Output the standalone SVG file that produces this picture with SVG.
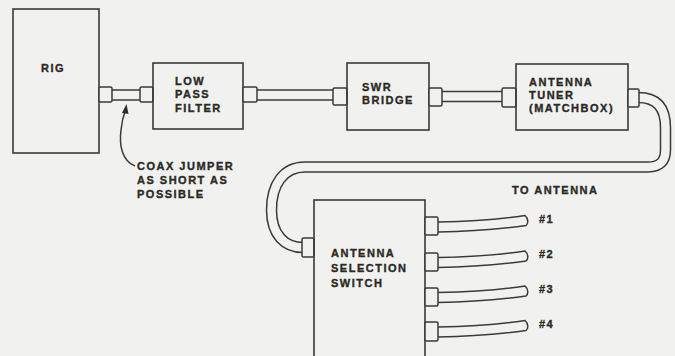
<svg xmlns="http://www.w3.org/2000/svg" width="675" height="356" viewBox="0 0 675 356">
<style>
.bg{fill:#f1f1ef}
.box{fill:none;stroke:#3a3a36;stroke-width:1.6}
.con{fill:#f1f1ef;stroke:#3a3a36;stroke-width:1.5}
.tubeO{fill:none;stroke:#3a3a36;stroke-width:11.5}
.tubeI{fill:none;stroke:#f1f1ef;stroke-width:8.5}
.line{fill:none;stroke:#3a3a36;stroke-width:1.5}
text{font-family:"Liberation Sans",Arial,sans-serif;font-weight:bold;font-size:11px;fill:#2a2a26;stroke:#2a2a26;stroke-width:0.35;letter-spacing:1.5px}
</style>
<defs>
<path id="cable" d="M438 -4.5 C470 -5 500 -7 525 -11 C528.5 -8 528.5 -3 526 -1 C500 2.5 470 5 438 5.5" class="line"/>
</defs>
<rect class="bg" x="0" y="0" width="675" height="356"/>

<g id="connectors">
<path class="tubeO" d="M111 95 H141 M256 95 H334 M441 96.5 H503"/>
<path class="tubeI" d="M111 95 H141 M256 95 H334 M441 96.5 H503"/>
<path class="tubeO" d="M638 97.5 C657 97.5 665.5 108 665.5 128 L665.5 150 Q665.5 167 648 167 L305 167 C283 167 271.5 185 271.5 210 C271.5 235 285 247.5 303 247.5"/>
<path class="tubeI" d="M638 97.5 C657 97.5 665.5 108 665.5 128 L665.5 150 Q665.5 167 648 167 L305 167 C283 167 271.5 185 271.5 210 C271.5 235 285 247.5 303 247.5"/>
<use href="#cable" transform="translate(0,226.5)"/>
<use href="#cable" transform="translate(0,262)"/>
<use href="#cable" transform="translate(0,297)"/>
<use href="#cable" transform="translate(0,331.5)"/>
<path class="line" d="M135 166 C122 161 119 145 121 130 C122 120 124 114 125.5 110"/>
<polygon points="126.5,104 122,113 128.5,114" fill="#2e2e2a"/>
</g>

<g id="rig">
<rect class="box" x="13" y="9" width="86" height="144"/>
<rect class="con" x="99" y="87" width="13" height="15" rx="1.5"/>
<text x="41" y="72">RIG</text>
</g>

<g id="lpf">
<rect class="con" x="140" y="87" width="13" height="15" rx="1.5"/>
<rect class="box" x="153" y="63" width="90" height="66"/>
<rect class="con" x="243" y="87" width="14" height="15" rx="1.5"/>
<text x="175" y="85">LOW</text>
<text x="175" y="98">PASS</text>
<text x="175" y="112">FILTER</text>
</g>

<g id="swr">
<rect class="con" x="333" y="88" width="14" height="17" rx="1.5"/>
<rect class="box" x="347" y="63" width="82" height="67"/>
<rect class="con" x="429" y="88" width="13" height="18" rx="1.5"/>
<text x="362" y="91">SWR</text>
<text x="362" y="104">BRIDGE</text>
</g>

<g id="tuner">
<rect class="con" x="502" y="88" width="14" height="19" rx="1.5"/>
<rect class="box" x="516" y="64" width="112" height="66"/>
<rect class="con" x="628" y="89" width="11" height="18" rx="1.5"/>
<text x="529" y="86">ANTENNA</text>
<text x="529" y="99">TUNER</text>
<text x="529" y="112">(MATCHBOX)</text>
</g>

<g id="switch">
<rect class="con" x="302" y="238" width="12" height="19" rx="1.5"/>
<rect class="box" x="314" y="200" width="111" height="170"/>
<rect class="con" x="425" y="217" width="13" height="18" rx="1.5"/>
<rect class="con" x="425" y="253" width="13" height="18" rx="1.5"/>
<rect class="con" x="425" y="288" width="13" height="18" rx="1.5"/>
<rect class="con" x="425" y="322" width="13" height="19" rx="1.5"/>
<text x="331" y="257">ANTENNA</text>
<text x="331" y="272">SELECTION</text>
<text x="331" y="287">SWITCH</text>
</g>

<g id="note">
<text x="137" y="170">COAX JUMPER</text>
<text x="137" y="184">AS SHORT AS</text>
<text x="137" y="198">POSSIBLE</text>
</g>

<g id="labels">
<text x="512" y="194">TO ANTENNA</text>
<text x="539" y="223">#1</text>
<text x="539" y="258">#2</text>
<text x="539" y="293">#3</text>
<text x="539" y="328">#4</text>
</g>
</svg>
